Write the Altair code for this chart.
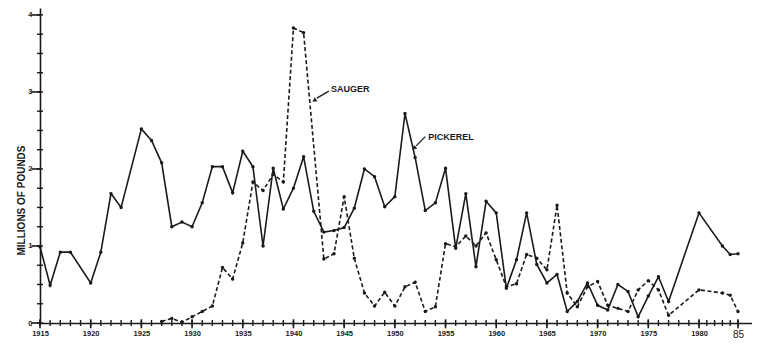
import altair as alt
import pandas as pd

# ---- data ----
pickerel_years = [1915, 1916, 1917, 1918, 1920, 1921, 1922, 1923, 1925, 1926, 1927, 1928,
                  1929, 1930, 1931, 1932, 1933, 1934, 1935, 1936, 1937, 1938, 1939, 1940,
                  1941, 1942, 1943, 1944, 1945, 1946, 1947, 1948, 1949, 1950, 1951, 1952,
                  1953, 1954, 1955, 1956, 1957, 1958, 1959, 1960, 1961, 1962, 1963, 1964,
                  1965, 1966, 1967, 1968, 1969, 1970, 1971, 1972, 1973, 1974, 1975, 1976,
                  1977, 1980, 1983, 1984, 1985]
pickerel_vals = [0.99, 0.49, 0.92, 0.92, 0.52, 0.92, 1.68, 1.50, 2.52, 2.37, 2.08, 1.25,
                 1.31, 1.25, 1.56, 2.03, 2.03, 1.69, 2.23, 2.03, 1.00, 2.01, 1.48, 1.75,
                 2.16, 1.45, 1.18, 1.20, 1.24, 1.49, 2.00, 1.90, 1.51, 1.64, 2.72, 2.15,
                 1.46, 1.56, 2.01, 0.97, 1.68, 0.73, 1.58, 1.43, 0.45, 0.82, 1.43, 0.76,
                 0.52, 0.63, 0.15, 0.28, 0.52, 0.23, 0.17, 0.50, 0.41, 0.08, 0.35, 0.60,
                 0.28, 1.43, 1.00, 0.89, 0.90]

sauger_years = [1927, 1928, 1929, 1930, 1931, 1932, 1933, 1934, 1935, 1936, 1937, 1938,
                1939, 1940, 1941, 1943, 1944, 1945, 1946, 1947, 1948, 1949, 1950, 1951,
                1952, 1953, 1954, 1955, 1956, 1957, 1958, 1959, 1960, 1961, 1962, 1963,
                1964, 1965, 1966, 1967, 1968, 1969, 1970, 1971, 1972, 1973, 1974, 1975,
                1976, 1977, 1980, 1983, 1984, 1985]
sauger_vals = [0.02, 0.06, 0.01, 0.08, 0.15, 0.22, 0.72, 0.57, 1.04, 1.83, 1.72, 1.93,
               1.83, 3.83, 3.77, 0.83, 0.90, 1.64, 0.84, 0.39, 0.22, 0.40, 0.22, 0.47,
               0.53, 0.15, 0.21, 1.03, 0.99, 1.13, 1.00, 1.17, 0.82, 0.47, 0.51, 0.89,
               0.84, 0.69, 1.53, 0.39, 0.21, 0.47, 0.54, 0.23, 0.19, 0.15, 0.43, 0.55,
               0.43, 0.10, 0.43, 0.39, 0.36, 0.15]

x_major = list(range(1915, 1986, 5))
x_minor = list(range(1915, 1986))
y_major = [0, 1, 2, 3, 4]
y_minor = [i * 0.25 for i in range(17)]

label_names = ["SAUGER", "PICKEREL"]
label_years = [1943.7, 1953.3]
label_vals = [3.04, 2.42]

arrow_names = ["SAUGER", "SAUGER", "PICKEREL", "PICKEREL"]
arrow_years = [1943.5, 1942.3, 1953.0, 1952.1]
arrow_vals = [3.01, 2.92, 2.42, 2.30]
head_years = [1942.05, 1951.9]
head_vals = [2.89, 2.27]
head_angles = [239, 228]

ink = "#1a1a1a"
FONT = "Liberation Sans"

pick_df = pd.DataFrame({"year": pickerel_years, "value": pickerel_vals})
saug_df = pd.DataFrame({"year": sauger_years, "value": sauger_vals})
lab_df = pd.DataFrame({"name": label_names, "year": label_years, "value": label_vals})
arr_df = pd.DataFrame({"name": arrow_names, "year": arrow_years, "value": arrow_vals})
head_df = pd.DataFrame({"year": head_years, "value": head_vals, "angle": head_angles})
xmaj_df = pd.DataFrame({"year": x_major})
xmin_df = pd.DataFrame({"year": x_minor})
ymaj_df = pd.DataFrame({"value": y_major})
ymin_df = pd.DataFrame({"value": y_minor})

xscale = alt.Scale(domain=[1915, 1980, 1985, 1987], range=[0, 659, 698, 712],
                   nice=False, zero=False)
yscale = alt.Scale(domain=[0, 4.09], nice=False, zero=False)

x_axis = alt.Axis(
    values=x_major, title=None, grid=False, orient="bottom", ticks=False,
    domainColor=ink, domainWidth=1.6,
    labelExpr="datum.value === 1985 ? '85' : '' + datum.value",
    labelFont=FONT,
    labelFontSize={"condition": {"test": "datum.value === 1985", "value": 10}, "value": 7.5},
    labelFontWeight={"condition": {"test": "datum.value === 1985", "value": "normal"}, "value": "bold"},
    labelColor=ink, labelPadding=6, labelOverlap=False, labelFlush=False,
)
y_axis = alt.Axis(
    values=y_major, grid=False, orient="left", format="d", ticks=False,
    title="MILLIONS OF POUNDS", titleFont=FONT, titleFontSize=10, titleFontWeight="bold",
    titleColor=ink, titleX=-19, titleY=192, titleAlign="center", titleBaseline="middle",
    titleAngle=270,
    domainColor=ink, domainWidth=1.6,
    labelFont=FONT, labelFontSize=7.5, labelFontWeight="bold", labelColor=ink,
    labelPadding=8, labelOverlap=False,
)

X = alt.X("year:Q", scale=xscale, axis=x_axis)
Y = alt.Y("value:Q", scale=yscale, axis=y_axis)
Xd = lambda v: alt.X(datum=v, scale=xscale, axis=x_axis)
Yd = lambda v: alt.Y(datum=v, scale=yscale, axis=y_axis)

pick_line = alt.Chart(pick_df).mark_line(color=ink, strokeWidth=1.6).encode(x=X, y=Y)
saug_line = alt.Chart(saug_df).mark_line(color=ink, strokeWidth=1.6,
                                         strokeDash=[4, 2.5]).encode(x=X, y=Y)

pick_pts = alt.Chart(pick_df).mark_circle(color=ink, size=12, opacity=1).encode(x=X, y=Y)
saug_pts = alt.Chart(saug_df).mark_circle(color=ink, size=12, opacity=1).encode(x=X, y=Y)

# axis tick marks
xmaj_ticks = alt.Chart(xmaj_df).mark_tick(
    color=ink, orient="vertical", size=9, thickness=1.6, opacity=1
).encode(x=X, y=Yd(-0.01))
xmin_ticks = alt.Chart(xmin_df).mark_tick(
    color=ink, orient="vertical", size=6, thickness=1.4, opacity=1
).encode(x=X, y=Yd(0))
ymaj_ticks = alt.Chart(ymaj_df).mark_tick(
    color=ink, orient="horizontal", size=9, thickness=1.6, opacity=1
).encode(y=Y, x=Xd(1914.6))
ymin_ticks = alt.Chart(ymin_df).mark_tick(
    color=ink, orient="horizontal", size=6, thickness=1.4, opacity=1
).encode(y=Y, x=Xd(1915))

labels = alt.Chart(lab_df).mark_text(
    align="left", baseline="middle", font=FONT, fontSize=9, fontWeight="bold", color=ink
).encode(x=X, y=Y, text="name:N")

arrows = alt.Chart(arr_df).mark_line(color=ink, strokeWidth=1.3).encode(
    x=X, y=Y, detail="name:N")
heads = alt.Chart(head_df).mark_point(
    shape="triangle-up", filled=True, color=ink, size=24, opacity=1
).encode(x=X, y=Y, angle=alt.Angle("angle:Q", scale=None))

chart = alt.layer(
    pick_line, saug_line, pick_pts, saug_pts,
    xmaj_ticks, xmin_ticks, ymaj_ticks, ymin_ticks,
    labels, arrows, heads
).properties(
    width=712, height=315,
    padding={"left": 32, "top": 0, "right": 0, "bottom": 22},
    autosize=alt.AutoSizeParams(type="none"),
    background="white",
).configure_view(stroke=None)

chart.save("out.html", embed_options={"renderer": "svg", "actions": False})
